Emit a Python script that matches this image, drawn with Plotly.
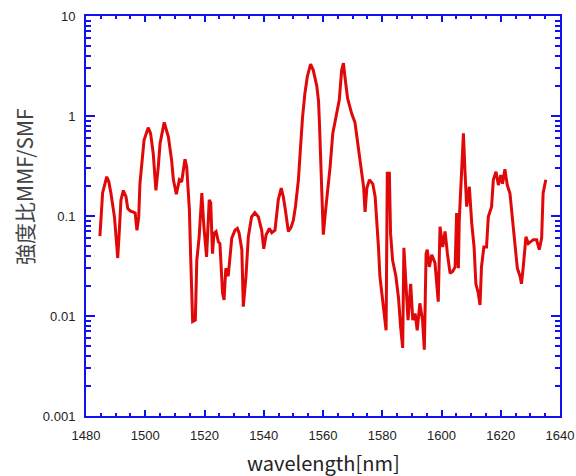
import plotly.graph_objects as go

wavelength = [
    1484.7, 1485.6, 1487.0, 1487.7, 1488.4, 1489.6, 1490.4, 1490.7, 1491.2, 1491.8,
    1492.6, 1493.5, 1494.1, 1495.0, 1495.8, 1496.6, 1497.2, 1497.8, 1498.2, 1498.8,
    1499.6, 1501.0, 1501.8, 1502.7, 1503.6, 1504.4, 1505.0, 1506.4, 1507.8, 1508.9,
    1509.5, 1510.5, 1511.5, 1512.3, 1513.4, 1514.0, 1514.9, 1515.3, 1516.0, 1516.9,
    1517.4, 1518.2, 1519.1, 1519.8, 1520.7, 1521.6, 1522.1, 1522.7, 1523.2, 1523.9,
    1524.7, 1525.2, 1526.1, 1526.6, 1527.2, 1528.0, 1528.6, 1529.2, 1530.3, 1531.1,
    1531.7, 1532.6, 1533.1, 1534.0, 1534.8, 1535.9, 1537.0, 1538.2, 1538.7, 1539.3,
    1540.0, 1540.8, 1541.9, 1542.7, 1543.8, 1544.9, 1545.9, 1546.6, 1547.3, 1548.3,
    1549.2, 1550.0, 1550.7, 1551.7, 1552.2, 1553.1, 1553.9, 1554.7, 1555.8, 1556.7,
    1557.9, 1558.5, 1558.8, 1559.3, 1559.6, 1560.1, 1561.0, 1562.4, 1563.3, 1564.6,
    1565.5, 1566.3, 1566.9, 1567.4, 1568.3, 1569.7, 1570.8, 1571.9, 1573.1, 1573.7,
    1574.2, 1574.8, 1575.7, 1576.8, 1577.6, 1578.3, 1578.7, 1579.2, 1579.9, 1580.9,
    1581.3, 1581.7, 1582.4, 1582.8, 1583.5, 1584.6, 1585.5, 1586.2, 1586.9, 1587.3,
    1588.0, 1588.7, 1589.6, 1590.3, 1591.1, 1591.8, 1592.7, 1593.6, 1594.2, 1594.8,
    1595.2, 1595.9, 1596.7, 1597.8, 1598.9, 1599.5, 1600.4, 1601.2, 1602.0, 1602.9,
    1603.8, 1604.6, 1605.1, 1605.7, 1606.0, 1606.8, 1607.4, 1607.9, 1608.5, 1609.4,
    1610.2, 1611.0, 1611.6, 1612.4, 1613.0, 1613.5, 1614.3, 1615.2, 1615.8, 1616.9,
    1617.5, 1618.4, 1619.2, 1620.0, 1620.6, 1621.4, 1622.2, 1623.1, 1624.0, 1624.8,
    1625.6, 1626.5, 1627.0, 1627.6, 1628.5, 1629.3, 1631.0, 1632.1, 1633.0, 1633.8,
    1634.3, 1635.2,
]

ratio = [
    0.063, 0.17, 0.247, 0.22, 0.17, 0.098, 0.05, 0.038, 0.067, 0.145,
    0.18, 0.156, 0.119, 0.112, 0.11, 0.107, 0.072, 0.098, 0.21, 0.336,
    0.575, 0.764, 0.67, 0.42, 0.18, 0.31, 0.53, 0.865, 0.62, 0.36,
    0.23, 0.165, 0.23, 0.22, 0.37, 0.31, 0.115, 0.042, 0.0088, 0.0091,
    0.036, 0.062, 0.169, 0.078, 0.039, 0.145, 0.135, 0.042, 0.067, 0.07,
    0.055, 0.053, 0.017, 0.0145, 0.03, 0.025, 0.039, 0.06, 0.072, 0.075,
    0.067, 0.046, 0.0124, 0.025, 0.062, 0.098, 0.108, 0.098, 0.085, 0.072,
    0.047, 0.065, 0.075, 0.068, 0.072, 0.145, 0.19, 0.156, 0.115, 0.07,
    0.077, 0.091, 0.124, 0.23, 0.39, 0.98, 1.69, 2.47, 3.3, 2.88,
    2.0, 1.4, 0.845, 0.3, 0.21, 0.065, 0.124, 0.31, 0.67, 1.06,
    1.45, 2.88, 3.37, 2.47, 1.5, 1.05, 0.86, 0.49, 0.28, 0.196,
    0.11, 0.19, 0.23, 0.21, 0.156, 0.085, 0.05, 0.025, 0.017, 0.0085,
    0.0072, 0.267, 0.267, 0.067, 0.036, 0.025, 0.015, 0.0078, 0.0048, 0.048,
    0.021, 0.0091, 0.021, 0.0091, 0.0106, 0.0072, 0.0134, 0.0091, 0.0046, 0.042,
    0.046, 0.031, 0.041, 0.034, 0.0139, 0.078, 0.049, 0.07, 0.042, 0.0267,
    0.028, 0.031, 0.107, 0.03, 0.091, 0.267, 0.67, 0.29, 0.124, 0.196,
    0.085, 0.049, 0.021, 0.017, 0.0129, 0.031, 0.049, 0.049, 0.098, 0.124,
    0.23, 0.277, 0.204, 0.257, 0.21, 0.293, 0.204, 0.169, 0.091, 0.046,
    0.03, 0.025, 0.021, 0.031, 0.062, 0.053, 0.058, 0.058, 0.046, 0.06,
    0.169, 0.23,
]

x_ticks = [1480, 1500, 1520, 1540, 1560, 1580, 1600, 1620, 1640]
y_ticks = [0.001, 0.01, 0.1, 1, 10]
y_tick_labels = ["0.001", "0.01", "0.1", "1", "10"]
x_title = "wavelength[nm]"
y_title = "強度比MMF/SMF"

axis_blue = "#1010F0"
tick_font = dict(family="Liberation Sans, Arial, sans-serif", size=13, color="#222222")

fig = go.Figure()
fig.add_trace(go.Scatter(
    x=wavelength, y=ratio, mode="lines",
    line=dict(color="#E00808", width=3),
    showlegend=False,
))

fig.update_layout(
    width=576, height=476,
    margin=dict(l=86, r=16, t=16, b=60),
    paper_bgcolor="white", plot_bgcolor="white",
    xaxis=dict(
        range=[1480, 1640], tickvals=x_ticks, automargin=False,
        showgrid=False, zeroline=False,
        showline=True, linecolor=axis_blue, linewidth=2, mirror="allticks",
        ticks="inside", ticklen=6, tickwidth=1.5, tickcolor=axis_blue,
        minor=dict(dtick=5, ticks="inside", ticklen=3, tickwidth=1.5, tickcolor=axis_blue, showgrid=False),
        tickfont=tick_font, ticklabelstandoff=6,
    ),
    yaxis=dict(
        type="log", range=[-3, 1], automargin=False,
        tickvals=y_ticks, ticktext=y_tick_labels,
        showgrid=False, zeroline=False,
        showline=True, linecolor=axis_blue, linewidth=2, mirror="allticks",
        ticks="inside", ticklen=9, tickwidth=1.5, tickcolor=axis_blue,
        minor=dict(dtick="D1", ticks="inside", ticklen=5, tickwidth=1.5, tickcolor=axis_blue, showgrid=False),
        tickfont=tick_font, ticklabelstandoff=6,
    ),
    annotations=[
        dict(text=x_title, xref="paper", yref="paper", x=0.5, y=-0.115,
             xanchor="center", yanchor="middle", showarrow=False,
             font=dict(family="Noto Sans CJK JP, sans-serif", size=20, color="#222222")),
        dict(text=y_title, xref="paper", yref="paper", x=-0.131, y=0.5725,
             xanchor="center", yanchor="middle", showarrow=False, textangle=-90,
             font=dict(family="Noto Sans CJK JP, sans-serif", size=21, color="#444444")),
    ],
)

fig.write_html("out.html")
